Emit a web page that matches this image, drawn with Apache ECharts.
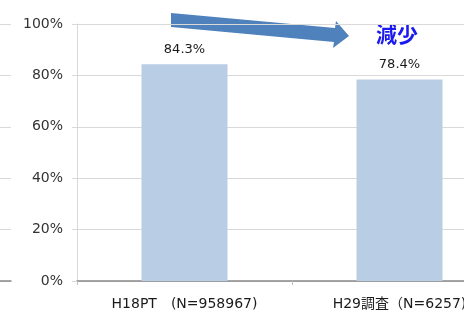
<!DOCTYPE html>
<html><head><meta charset="utf-8">
<script src="https://cdn.jsdelivr.net/npm/echarts@6/dist/echarts.min.js"></script>
<style>html,body{margin:0;padding:0;background:#fff}#c{width:464px;height:313px}</style>
</head><body><div id="c"></div>
<script>
const categories = ['H18PT\u3000(N=958967)', 'H29調査（N=6257)'];
const values = [84.3, 78.4];
const yTicks = [0, 20, 40, 60, 80, 100];
const noteText = '減少';

const FONT = "'DejaVu Sans','Noto Sans CJK JP',sans-serif";
const chart = echarts.init(document.getElementById('c'));
chart.setOption({
  animation: false,
  grid: [
    {left: 77, top: 24, width: 430, height: 257, outerBoundsMode: 'none', containLabel: false},
    {left: -50, width: 61, top: 24, height: 257, outerBoundsMode: 'none', containLabel: false}
  ],
  xAxis: [
    {type: 'category', data: categories, gridIndex: 0,
     axisLine: {lineStyle: {color: '#898989', width: 1.5}},
     axisTick: {show: true, alignWithLabel: false, length: 4, lineStyle: {color: '#bfbfbf'}},
     axisLabel: {fontSize: 14, color: '#1a1a1a', fontFamily: FONT, margin: 16, interval: 0}},
    {type: 'category', data: [''], gridIndex: 1, show: true,
     axisLine: {lineStyle: {color: '#898989', width: 1.5}},
     axisTick: {show: false}, axisLabel: {show: false}}
  ],
  yAxis: [
    {type: 'value', gridIndex: 0, min: yTicks[0], max: yTicks[yTicks.length-1], interval: 20,
     axisLine: {show: true, lineStyle: {color: '#d9d9d9'}},
     axisTick: {show: true, length: 5, lineStyle: {color: '#d9d9d9'}},
     splitLine: {lineStyle: {color: '#d9d9d9'}},
     axisLabel: {formatter: '{value}%', fontSize: 14, color: '#333', fontFamily: FONT, margin: 14}},
    {type: 'value', gridIndex: 1, min: yTicks[0], max: yTicks[yTicks.length-1], interval: 20,
     axisLine: {show: false}, axisTick: {show: false}, axisLabel: {show: false},
     splitLine: {lineStyle: {color: '#d9d9d9'}}}
  ],
  series: [{
    type: 'bar', data: values, xAxisIndex: 0, yAxisIndex: 0, barWidth: 86,
    itemStyle: {color: '#b9cde5'},
    label: {show: true, position: 'top', distance: 8, formatter: p => p.value.toFixed(1) + '%',
      fontSize: 13, color: '#1a1a1a', fontFamily: FONT}
  }],
  graphic: [
    {type: 'polygon', shape: {points: [[171,13],[335,28],[336,21],[349,36],[333,48],[334,42],[171,27]]},
     style: {fill: '#4f81bd'}},
    {type: 'text', left: 376, top: 24, style: {text: noteText, fill: '#1a1aee', font: "bold 21px 'Noto Sans CJK JP'"}}
  ]
});
</script></body></html>
